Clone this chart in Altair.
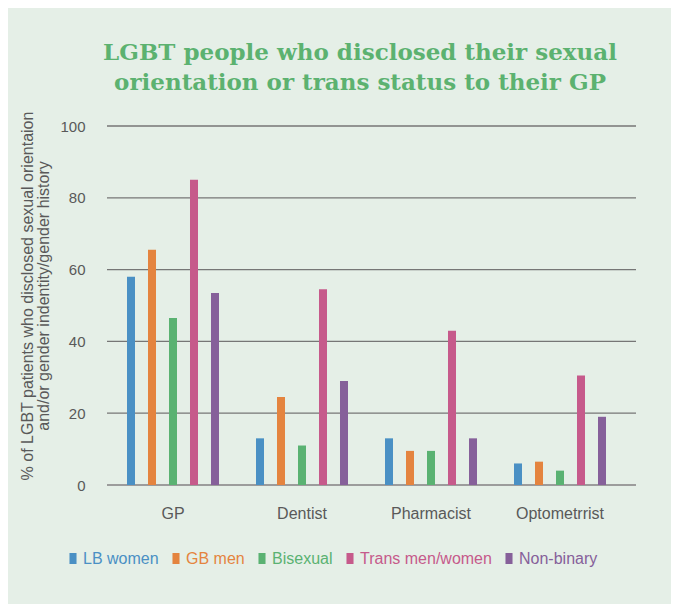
import altair as alt
import pandas as pd

categories = ["GP", "Dentist", "Pharmacist", "Optometrrist"]
groups = ["LB women", "GB men", "Bisexual", "Trans men/women", "Non-binary"]
lb_women = [58, 13, 13, 6]
gb_men = [65.5, 24.5, 9.5, 6.5]
bisexual = [46.5, 11, 9.5, 4]
trans_men_women = [85, 54.5, 43, 30.5]
non_binary = [53.5, 29, 13, 19]
colors = ["#4a90c4", "#e4843f", "#5ab272", "#c65a8b", "#86609a"]
y_ticks = [0, 20, 40, 60, 80, 100]

series = [lb_women, gb_men, bisexual, trans_men_women, non_binary]
rows = []
for g, vals in zip(groups, series):
    for c, v in zip(categories, vals):
        rows.append({"service": c, "group": g, "value": v})
df = pd.DataFrame(rows)
grid_df = pd.DataFrame({"tick": y_ticks})

BG = "#e5efe7"
TXT = "#595959"
FONT = "Liberation Sans"
W, H = 529, 359

y_scale = alt.Scale(domain=[0, 100], nice=False)
y_axis = alt.Axis(values=y_ticks,
                  title=["% of LGBT patients who disclosed sexual orientaion",
                         "and/or gender indentity/gender history"],
                  titleFont=FONT, titleFontSize=16, titleFontWeight="normal",
                  titleColor=TXT, titleX=-80, titleY=169.5, titleAngle=-90,
                  titleBaseline="middle", titleAlign="center", titleLineHeight=16,
                  domain=False, ticks=False, labelPadding=22, grid=False,
                  labelFont=FONT, labelFontSize=15, labelColor=TXT)

grid = alt.Chart(grid_df).transform_filter("datum.tick > 0").mark_rule(
    color="#767676", strokeWidth=1.3
).encode(
    y=alt.Y("tick:Q", scale=y_scale, axis=y_axis),
    x=alt.value(0), x2=alt.value(W),
)

baseline = alt.Chart(grid_df).transform_filter("datum.tick == 0").mark_rule(
    color="#9c9c9c", strokeWidth=2
).encode(
    y=alt.Y("tick:Q", scale=y_scale, axis=y_axis),
    x=alt.value(0), x2=alt.value(W),
)

bars = alt.Chart(df).mark_bar().encode(
    x=alt.X("service:N", sort=categories,
            scale=alt.Scale(range=[1.5, 517.5], paddingInner=0, paddingOuter=0),
            axis=alt.Axis(title=None, labelAngle=0, ticks=False, labelPadding=20,
                          labelFont=FONT, labelFontSize=16, labelColor=TXT,
                          domain=False, grid=False)),
    xOffset=alt.XOffset("group:N", sort=groups,
                        scale=alt.Scale(paddingInner=0.619, paddingOuter=0.881)),
    y=alt.Y("value:Q", scale=y_scale, axis=y_axis),
    color=alt.Color("group:N", sort=groups,
                    scale=alt.Scale(domain=groups, range=colors),
                    legend=alt.Legend(title=None, orient="none", legendX=-42, legendY=424.5,
                                      direction="horizontal",
                                      symbolType="M-0.64,-1H0.64V1H-0.64Z",
                                      symbolSize=121, symbolStrokeWidth=0,
                                      labelFont=FONT, labelFontSize=16, labelOffset=2,
                                      columnPadding=9, padding=0, labelLimit=0,
                                      labelColor=alt.ExprRef("scale('color', datum.value)"))),
)

chart = alt.layer(grid, baseline, bars).properties(
    width=W,
    height=H,
    title=alt.TitleParams(
        text=["LGBT people who disclosed their sexual",
              "orientation or trans status to their GP"],
        font="DejaVu Serif", fontWeight="bold", fontSize=23, color="#5cb270",
        anchor="middle", dx=-11.5, offset=16, lineHeight=30),
    background=BG,
    padding={"left": 99, "top": 118, "right": 35, "bottom": 119},
    autosize=alt.AutoSizeParams(type="none"),
).configure_view(stroke=None)

chart.save("out.html", embed_options={"renderer": "svg", "actions": False})
